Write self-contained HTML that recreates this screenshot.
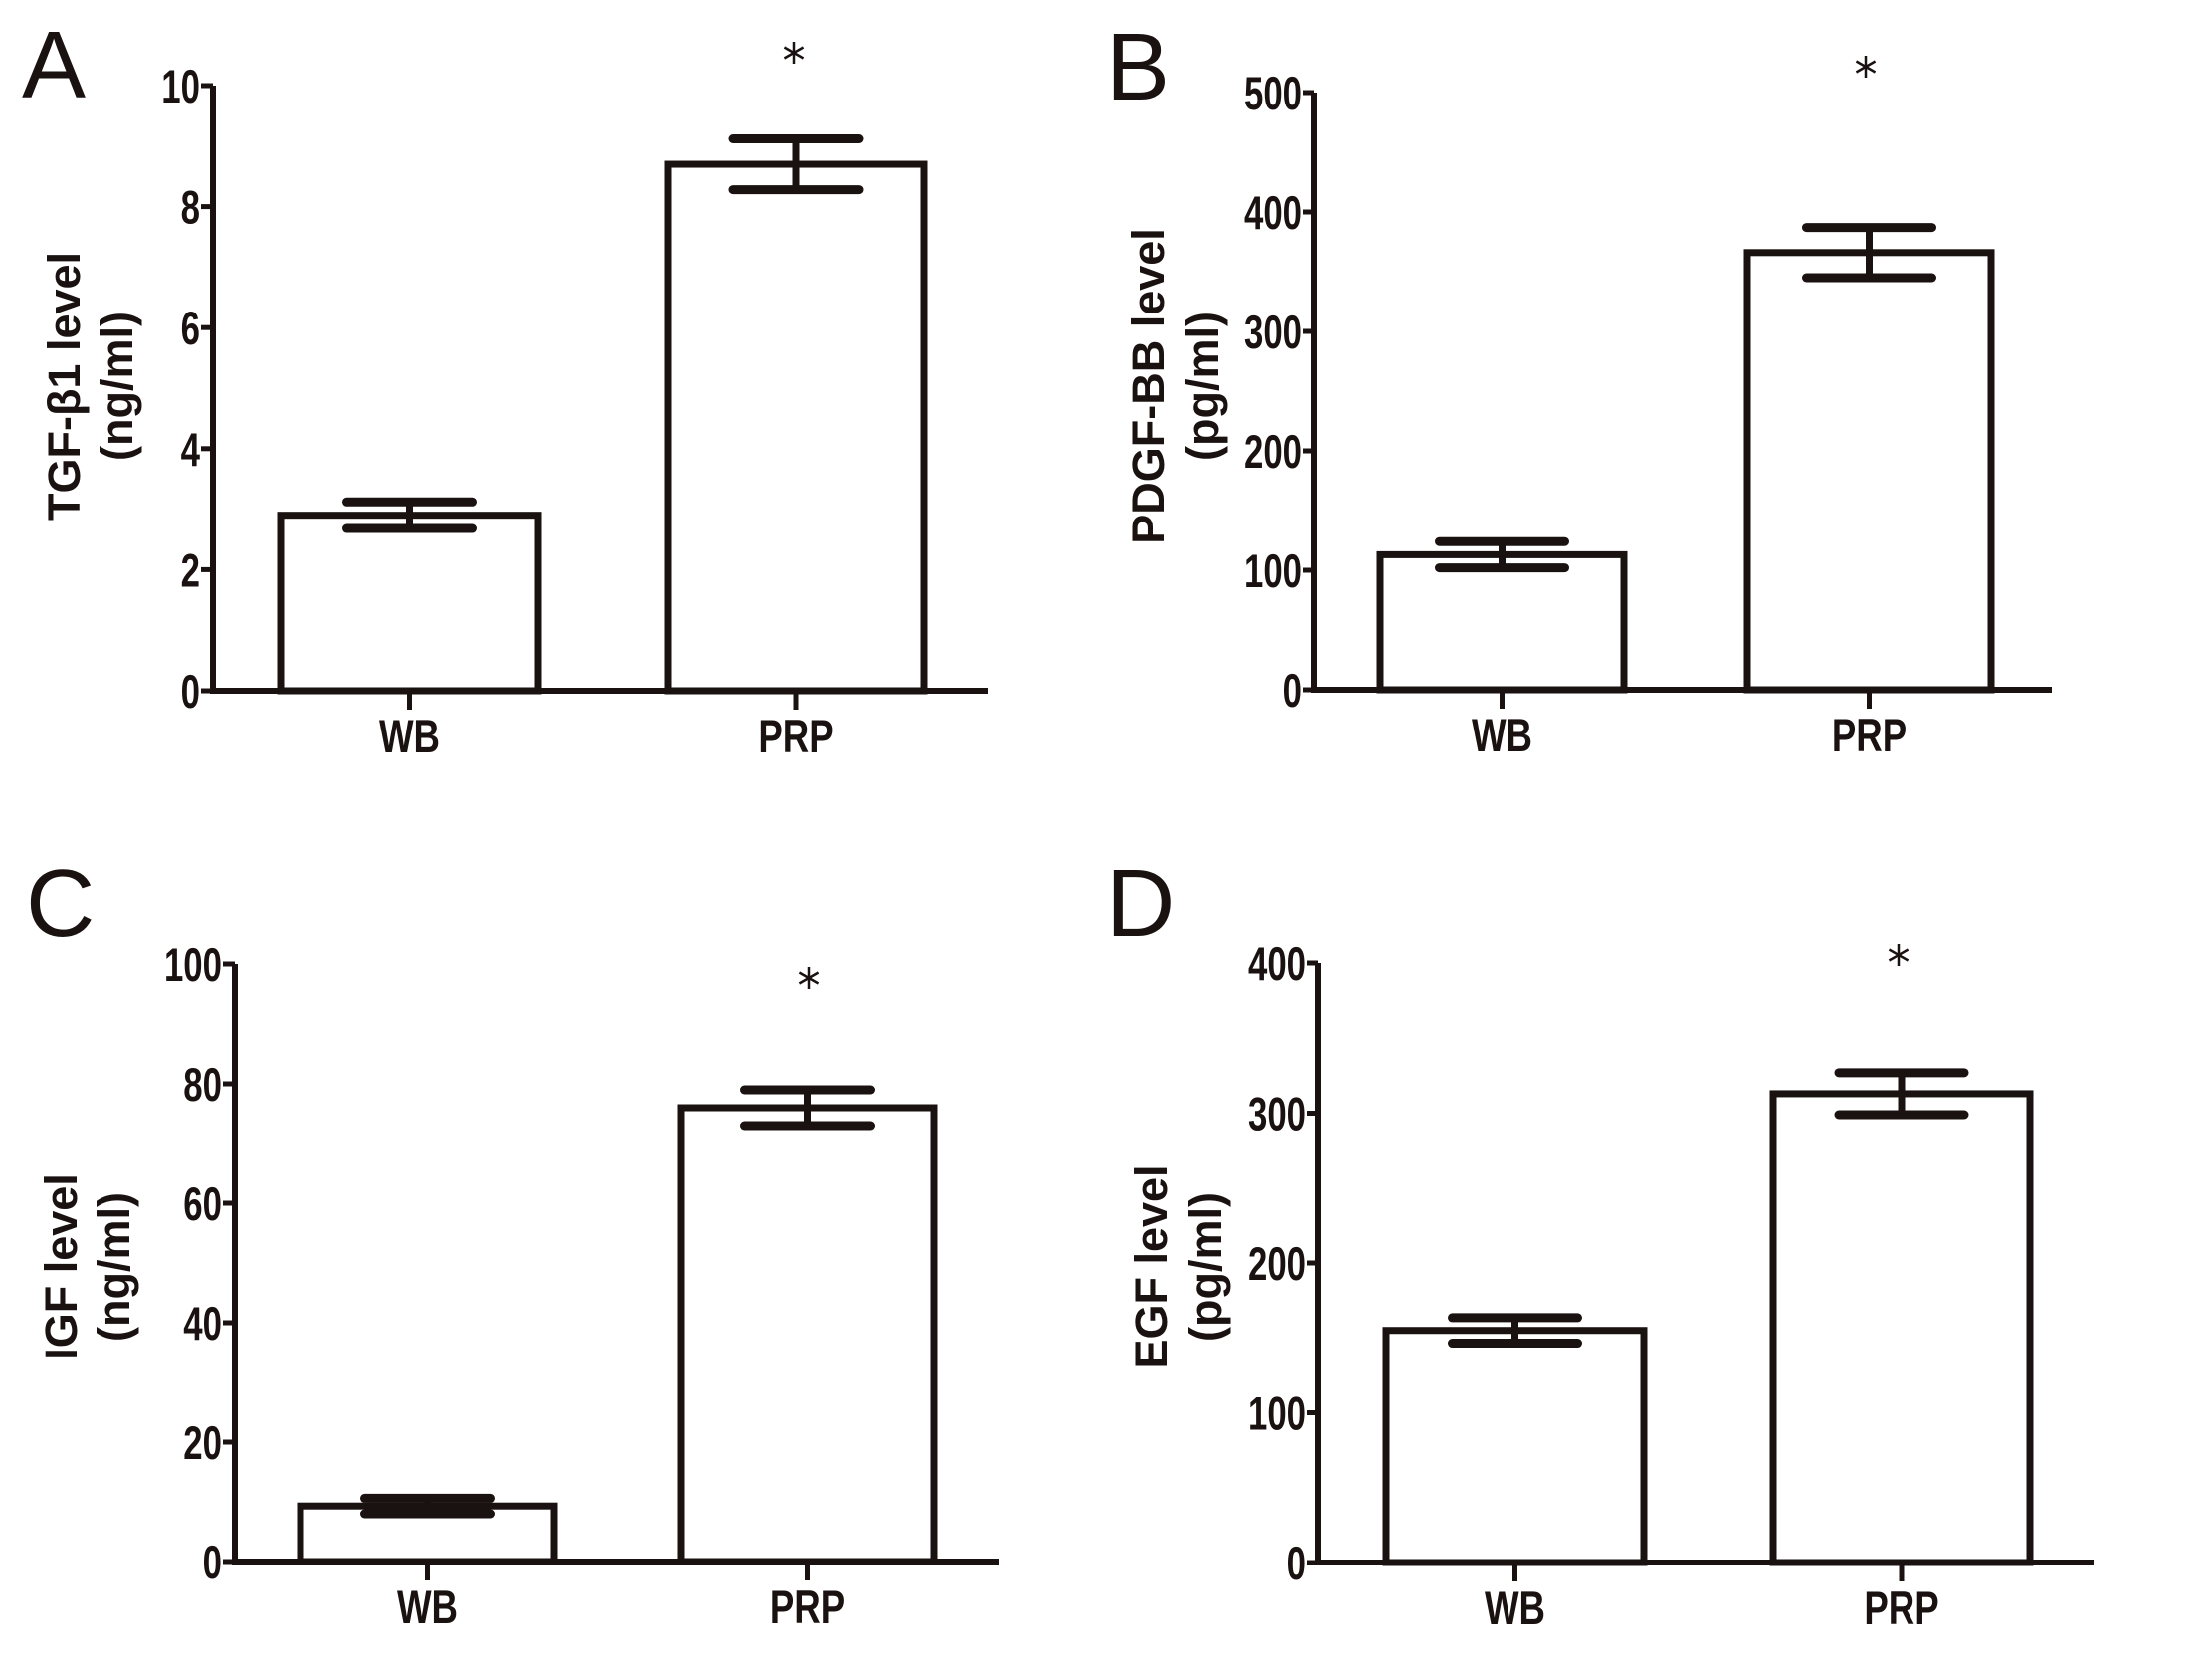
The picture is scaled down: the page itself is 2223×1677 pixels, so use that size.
<!DOCTYPE html>
<html><head><meta charset="utf-8">
<style>
html,body{margin:0;padding:0;background:#fff;}
svg{display:block;}
text{font-family:"Liberation Sans",sans-serif;fill:#1a1210;}
.tick{font-weight:bold;font-size:47px;}
.cat{font-weight:bold;font-size:47px;}
.ttl{font-weight:bold;font-size:45px;}
.lett{font-size:96px;}
</style></head>
<body>
<svg id="fig" width="2223" height="1677" viewBox="0 0 2223 1677" xmlns="http://www.w3.org/2000/svg"></svg>
<script>
// Panel A
const catsA = ["WB","PRP"];
const meansA = [2.9, 8.7];
const errA = [0.22, 0.42];
const ticksA = [0,2,4,6,8,10];
// Panel B
const catsB = ["WB","PRP"];
const meansB = [113, 366];
const errB = [11, 21];
const ticksB = [0,100,200,300,400,500];
// Panel C
const catsC = ["WB","PRP"];
const meansC = [9.3, 76];
const errC = [1.3, 3];
const ticksC = [0,20,40,60,80,100];
// Panel D
const catsD = ["WB","PRP"];
const meansD = [155, 313];
const errD = [8.5, 14];
const ticksD = [0,100,200,300,400];

const NS="http://www.w3.org/2000/svg";
const svg=document.getElementById('fig');
const C="#1a1210";
function mk(tag,attrs,parent){const e=document.createElementNS(NS,tag);for(const k in attrs)e.setAttribute(k,attrs[k]);(parent||svg).appendChild(e);return e;}

function panel(id,L,cats,means,errs,ticks,t1,t2){
  const g=mk('g',{});
  
  
  const max=ticks[ticks.length-1];
  const y=v=>L.y0-(v/max)*(L.y0-L.yTop);
  const lt=mk('text',{x:L.lx,y:L.ly,class:'lett'},g);lt.textContent=id;
  
  
  cats.forEach((c,i)=>{
    const x0=L.bars[i][0],x1=L.bars[i][1],cx=(x0+x1)/2;
    const r=mk('rect',{x:x0,y:y(means[i]),width:x1-x0,height:L.y0-y(means[i]),fill:'#fff',stroke:C,'stroke-width':7},g);
    
    
    const eg=mk('g',{stroke:C,'stroke-linecap':'round'},g);
    
    
    mk('line',{x1:cx,x2:cx,y1:y(means[i]+errs[i]),y2:y(means[i]-errs[i]),'stroke-width':7},eg);
    mk('line',{x1:cx-63,x2:cx+63,y1:y(means[i]+errs[i]),y2:y(means[i]+errs[i]),'stroke-width':9},eg);
    mk('line',{x1:cx-63,x2:cx+63,y1:y(means[i]-errs[i]),y2:y(means[i]-errs[i]),'stroke-width':9},eg);
    mk('line',{x1:cx,x2:cx,y1:L.y0,y2:L.y0+19,stroke:C,'stroke-width':5},g);
    const t=mk('text',{x:cx,y:L.y0+62,'text-anchor':'middle',class:'cat',transform:`translate(${cx},0) scale(0.78,1) translate(${-cx},0)`},g);
    t.textContent=c;
    
    
  });
  const ax=mk('path',{d:`M${L.ax},${L.yTop} V${L.y0} H${L.xEnd}`,fill:'none',stroke:C,'stroke-width':6},g);
  
  
  ticks.forEach(v=>{
    mk('line',{x1:L.ax-12,x2:L.ax,y1:y(v),y2:y(v),stroke:C,'stroke-width':5},g);
    const tx=L.ax-13;
    const t=mk('text',{x:tx,y:y(v)+17,'text-anchor':'end',class:'tick',transform:`translate(${tx},0) scale(0.74,1) translate(${-tx},0)`},g);
    t.textContent=v;
    
    
  });
  // asterisk drawn as thin 6-point star
  const ag=mk('g',{stroke:C,'stroke-width':2.5},g);
  
  
  const s=11;
  mk('line',{x1:L.astx,x2:L.astx,y1:L.asty-s,y2:L.asty+s},ag);
  mk('line',{x1:L.astx-s*0.87,x2:L.astx+s*0.87,y1:L.asty-s/2,y2:L.asty+s/2},ag);
  mk('line',{x1:L.astx-s*0.87,x2:L.astx+s*0.87,y1:L.asty+s/2,y2:L.asty-s/2},ag);
  const tg=mk('g',{},g);
  
  
  const a1=mk('text',{x:0,y:0,'text-anchor':'middle',class:'ttl',transform:`translate(${L.t1x+16},${L.tcy}) rotate(-90)`},tg);a1.textContent=t1;
  const a2=mk('text',{x:0,y:0,'text-anchor':'middle',class:'ttl',transform:`translate(${L.t2x+16},${L.tcy}) rotate(-90)`},tg);a2.textContent=t2;
}

panel('A',{lx:22,ly:98,ax:214,yTop:86,y0:694,xEnd:993,bars:[[282,541],[671,929]],astx:798,asty:53,t1x:64,t2x:117,tcy:388},catsA,meansA,errA,ticksA,'TGF-\u03B21 level','(ng/ml)');
panel('B',{lx:1112,ly:100,ax:1321,yTop:93,y0:693,xEnd:2062,bars:[[1387,1632],[1756,2001]],astx:1875,asty:67,t1x:1154,t2x:1208,tcy:388},catsB,meansB,errB,ticksB,'PDGF-BB level','(pg/ml)');
panel('C',{lx:26,ly:940,ax:236,yTop:969,y0:1569,xEnd:1004,bars:[[302,557],[684,939]],astx:813,asty:983,t1x:61,t2x:114,tcy:1273},catsC,meansC,errC,ticksC,'IGF level','(ng/ml)');
panel('D',{lx:1112,ly:940,ax:1325,yTop:968,y0:1570,xEnd:2104,bars:[[1393,1652],[1782,2040]],astx:1908,asty:960,t1x:1157,t2x:1211,tcy:1273},catsD,meansD,errD,ticksD,'EGF level','(pg/ml)');
</script>
</body></html>
